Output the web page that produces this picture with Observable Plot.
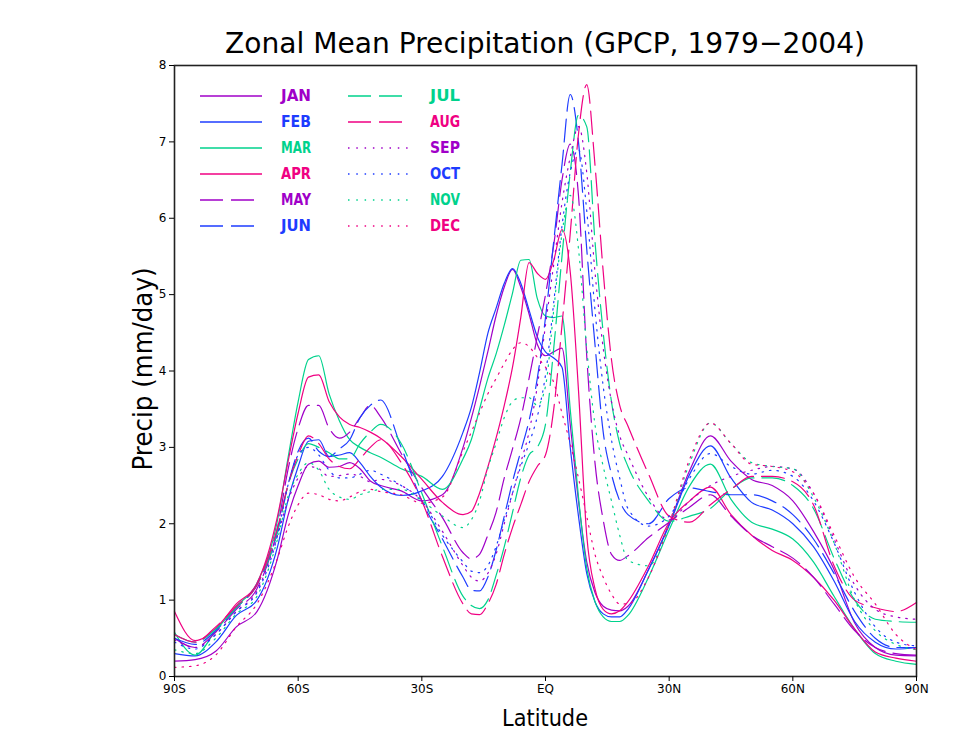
<!DOCTYPE html>
<html>
<head>
<meta charset="utf-8">
<script src="https://cdn.jsdelivr.net/npm/d3@7"></script>
<script src="https://cdn.jsdelivr.net/npm/@observablehq/plot@0.6"></script>
<style>
  body { margin: 0; background: #fff; }
  #chart svg { display: block; }
</style>
</head>
<body>
<div id="chart"></div>
<script>
// Latitude grid (degrees, south negative)
const lat = [-90,-85,-80,-75,-70,-65,-62.5,-60,-57.5,-55,-52.5,-50,-47.5,-45,-42.5,-40,-35,-30,-25,
  -20,-18,-16,-14,-12,-10,-8,-6,-4,-2,0,2,4,6,8,10,12,14,16,18,20,
  25,30,35,40,45,50,55,60,65,70,75,80,85,90];

// Monthly zonal-mean precipitation, mm/day
const jan = [0.2,0.22,0.33,0.65,0.85,1.55,2.1,2.5,2.78,2.82,2.74,2.75,2.8,2.72,2.56,2.5,2.43,2.3,2.38,
  3.0,3.38,3.8,4.25,4.72,5.1,5.33,5.1,4.75,4.35,4.2,4.25,4.3,3.3,2.3,1.5,1.1,0.92,0.87,0.86,0.92,
  1.4,2.0,2.7,3.15,2.82,2.58,2.5,2.3,1.9,1.4,0.7,0.38,0.28,0.27];
const feb = [0.3,0.27,0.45,0.8,1.0,1.7,2.3,2.75,3.08,3.1,2.88,2.9,2.93,2.8,2.62,2.48,2.37,2.43,2.62,
  3.2,3.52,3.98,4.49,4.82,5.15,5.34,5.15,4.8,4.45,4.25,4.17,4.05,3.0,2.1,1.35,0.98,0.82,0.78,0.78,0.88,
  1.4,1.98,2.65,3.02,2.6,2.28,2.18,2.0,1.7,1.25,0.72,0.45,0.36,0.38];
const mar = [0.58,0.28,0.6,0.92,1.22,2.05,2.85,3.6,4.15,4.2,3.7,3.35,3.1,3.0,2.93,2.87,2.72,2.62,2.45,
  2.85,3.1,3.5,3.9,4.22,4.6,5.02,5.45,5.46,4.95,4.72,4.7,4.72,3.5,2.35,1.42,0.98,0.78,0.72,0.72,0.8,
  1.3,1.92,2.5,2.78,2.32,2.02,1.93,1.8,1.5,1.05,0.62,0.3,0.2,0.16];
const apr = [0.85,0.47,0.63,0.95,1.22,2.1,2.8,3.45,3.92,3.95,3.6,3.4,3.3,3.26,3.2,3.12,2.88,2.58,2.28,
  2.12,2.16,2.4,2.74,3.12,3.55,4.05,4.7,5.42,5.28,5.2,5.45,5.85,5.3,3.75,1.85,1.15,0.88,0.82,0.86,0.98,
  1.45,2.02,2.3,2.48,2.12,1.85,1.65,1.52,1.3,1.0,0.62,0.32,0.24,0.2];
const may = [0.5,0.38,0.58,0.88,1.15,1.95,2.7,3.25,3.55,3.55,3.25,3.12,3.2,3.39,3.55,3.4,2.92,2.47,2.08,
  1.62,1.54,1.6,1.85,2.15,2.6,2.98,3.38,3.9,4.45,5.0,5.65,6.5,6.97,6.3,4.2,2.8,2.05,1.6,1.52,1.58,
  1.82,2.02,2.22,2.38,2.1,1.85,1.7,1.55,1.3,0.95,0.6,0.38,0.3,0.28];
const jun = [0.5,0.42,0.6,0.9,1.2,1.9,2.5,2.95,3.12,2.95,2.88,2.98,3.1,3.39,3.55,3.62,3.0,2.3,1.8,
  1.3,1.13,1.12,1.3,1.65,2.1,2.55,2.95,3.35,3.9,4.7,5.7,6.7,7.62,7.0,5.6,4.35,3.2,2.65,2.3,2.12,
  2.0,2.33,2.47,2.42,2.38,2.38,2.3,2.12,1.8,1.35,0.85,0.5,0.38,0.38];
const jul = [0.55,0.45,0.62,0.9,1.2,1.9,2.5,2.85,3.05,3.0,2.93,2.85,2.85,3.05,3.2,3.3,3.05,2.4,1.7,
  1.05,0.93,0.89,1.0,1.32,1.7,2.15,2.6,2.9,3.0,3.3,4.3,5.5,6.6,7.35,7.2,5.7,4.5,3.6,3.05,2.75,
  2.3,2.03,2.1,2.2,2.45,2.6,2.6,2.5,2.2,1.55,1.0,0.75,0.72,0.71];
const aug = [0.55,0.45,0.65,0.92,1.2,1.95,2.5,2.9,3.15,3.05,2.85,2.75,2.72,2.85,3.0,3.1,2.8,2.3,1.57,
  0.95,0.82,0.81,0.95,1.2,1.6,1.95,2.25,2.55,2.75,2.9,3.5,4.6,5.8,7.1,7.75,6.7,5.3,4.15,3.55,3.28,
  2.65,2.1,2.02,2.25,2.45,2.62,2.62,2.55,2.25,1.45,1.0,0.9,0.85,0.97];
const sep = [0.48,0.38,0.55,0.85,1.12,1.85,2.3,2.6,2.75,2.72,2.62,2.63,2.65,2.62,2.55,2.58,2.5,2.3,1.9,
  1.45,1.3,1.25,1.35,1.6,2.0,2.4,2.8,3.2,3.8,4.6,5.4,6.2,6.8,7.2,6.6,5.3,4.3,3.6,3.15,2.9,
  2.35,2.05,2.3,2.5,2.62,2.7,2.75,2.72,2.4,1.8,1.2,0.88,0.78,0.75];
const oct = [0.45,0.36,0.55,0.85,1.1,1.85,2.5,2.9,3.0,2.9,2.7,2.6,2.6,2.65,2.7,2.65,2.5,2.3,1.85,
  1.5,1.38,1.36,1.45,1.7,2.05,2.4,2.75,3.05,3.4,3.95,4.9,5.9,6.6,6.9,6.1,4.8,3.8,3.1,2.6,2.2,
  1.97,2.1,2.6,2.92,2.75,2.65,2.7,2.62,2.3,1.75,1.1,0.65,0.45,0.4];
const nov = [0.35,0.3,0.5,0.82,1.05,1.8,2.35,2.65,2.8,2.7,2.45,2.35,2.32,2.38,2.42,2.45,2.45,2.3,2.1,
  1.95,2.05,2.3,2.72,3.05,3.39,3.6,3.65,3.65,3.55,3.8,4.8,5.8,6.3,5.6,4.3,3.3,2.75,2.3,1.85,1.52,
  1.45,2.0,2.8,3.32,3.05,2.8,2.75,2.72,2.35,1.75,1.0,0.6,0.42,0.35];
const dec = [0.12,0.14,0.28,0.65,0.95,1.55,1.95,2.25,2.4,2.38,2.32,2.3,2.35,2.42,2.45,2.42,2.38,2.27,2.35,
  2.95,3.2,3.45,3.7,3.9,4.1,4.28,4.37,4.32,4.18,4.05,3.85,3.45,3.05,2.6,2.1,1.6,1.3,1.08,0.95,0.95,
  1.3,2.0,2.85,3.32,3.05,2.78,2.75,2.68,2.4,1.85,1.3,0.95,0.55,0.35];

const months = ["JAN","FEB","MAR","APR","MAY","JUN","JUL","AUG","SEP","OCT","NOV","DEC"];
const values = [jan, feb, mar, apr, may, jun, jul, aug, sep, oct, nov, dec];

// Axis ticks
const xTicks = [-90, -60, -30, 0, 30, 60, 90];
const xTickLabels = ["90S", "60S", "30S", "EQ", "30N", "60N", "90N"];
const yTicks = [0, 1, 2, 3, 4, 5, 6, 7, 8];

// Colour cycles by month within each quarter; line style by quarter
const palette = ["#a000c8", "#1e3cff", "#00d28c", "#f00082"];
const dashes = [null, "23,8", "1.5,6"];
const styleOf = i => ({ color: palette[i % 4], dash: dashes[Math.floor(i / 4)] });

const rows = months.flatMap((m, i) => lat.map((l, j) => ({ month: m, lat: l, precip: values[i][j] })));

const W = 960, H = 742;
const margin = { top: 65, right: 44, bottom: 66, left: 174 };

const chart = Plot.plot({
  width: W,
  height: H,
  marginTop: margin.top,
  marginRight: margin.right,
  marginBottom: margin.bottom,
  marginLeft: margin.left,
  style: { background: "#fff", fontFamily: "DejaVu Sans, sans-serif", fontSize: "12px", color: "#000" },
  x: { domain: [-90, 90] },
  y: { domain: [0, 8] },
  marks: [
    ...months.map((m, i) => {
      const s = styleOf(i);
      return Plot.line(rows.filter(d => d.month === m), {
        x: "lat", y: "precip", stroke: s.color, strokeWidth: 1.2,
        strokeDasharray: s.dash, curve: "monotone-x"
      });
    }),
    Plot.frame({ stroke: "#222", strokeWidth: 1.6 }),
    Plot.axisX({ ticks: xTicks, tickFormat: d => xTickLabels[xTicks.indexOf(d)], tickSize: 5, tickPadding: 3, label: null, fontSize: 12 }),
    Plot.axisY({ ticks: yTicks, tickSize: 5, tickPadding: 3, label: null, fontSize: 12 })
  ]
});

document.getElementById("chart").appendChild(chart);

const svg = d3.select(chart);

// Title and axis titles
svg.append("text")
  .attr("x", 545).attr("y", 53)
  .attr("text-anchor", "middle")
  .attr("font-family", "DejaVu Sans, sans-serif")
  .attr("font-size", 29)
  .attr("textLength", 640).attr("lengthAdjust", "spacingAndGlyphs")
  .attr("fill", "#000")
  .text("Zonal Mean Precipitation (GPCP, 1979\u22122004)");

svg.append("text")
  .attr("x", 545).attr("y", 726)
  .attr("text-anchor", "middle")
  .attr("font-family", "DejaVu Sans, sans-serif")
  .attr("font-size", 23)
  .attr("textLength", 86).attr("lengthAdjust", "spacingAndGlyphs")
  .attr("fill", "#000")
  .text("Latitude");

svg.append("text")
  .attr("transform", "translate(152,369) rotate(-90)")
  .attr("text-anchor", "middle")
  .attr("font-family", "DejaVu Sans, sans-serif")
  .attr("font-size", 26)
  .attr("textLength", 203).attr("lengthAdjust", "spacingAndGlyphs")
  .attr("fill", "#000")
  .text("Precip (mm/day)");

// Legend: two columns of six entries
const legend = svg.append("g");
months.forEach((m, i) => {
  const s = styleOf(i);
  const col = i < 6 ? 0 : 1;
  const row = i % 6;
  const y = 96 + row * 26;
  const x0 = col === 0 ? 200 : 348;
  const x1 = s.dash === "23,8" ? x0 + 54 : (s.dash ? x0 + 60 : x0 + 62);
  const lx = col === 0 ? 296 : 445;
  legend.append("line")
    .attr("x1", x0).attr("x2", x1).attr("y1", y).attr("y2", y)
    .attr("stroke", s.color).attr("stroke-width", 1.3)
    .attr("stroke-dasharray", s.dash === "1.5,6" ? "1.5,6.8" : s.dash);
  legend.append("text")
    .attr("x", lx).attr("y", y + 5)
    .attr("text-anchor", "middle")
    .attr("font-family", "DejaVu Sans, sans-serif")
    .attr("font-weight", "bold")
    .attr("font-size", 15)
    .attr("textLength", 30).attr("lengthAdjust", "spacingAndGlyphs")
    .attr("fill", s.color)
    .text(m);
});
</script>
</body>
</html>
